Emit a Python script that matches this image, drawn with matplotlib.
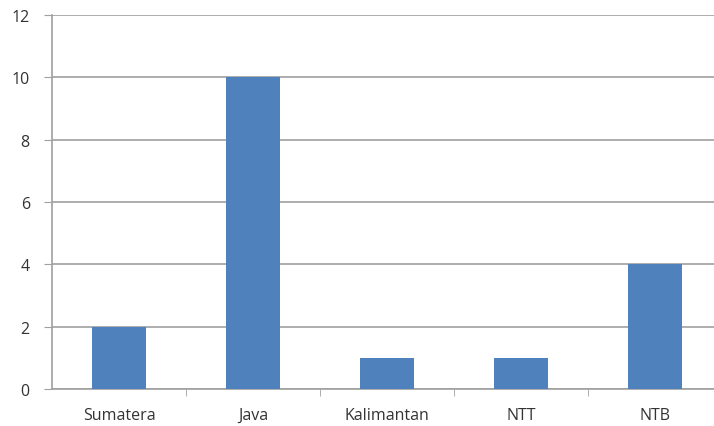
import matplotlib
matplotlib.use("Agg")
import matplotlib.pyplot as plt
from matplotlib.ticker import FixedLocator, NullFormatter

regions = ["Sumatera", "Java", "Kalimantan", "NTT", "NTB"]
counts = [2, 10, 1, 1, 4]
y_ticks = [0, 2, 4, 6, 8, 10, 12]

W, H = 714, 427
fig = plt.figure(figsize=(W / 100, H / 100), dpi=100)
ax = fig.add_axes([52 / W, (H - 390) / H, 662 / W, 374 / H])

x = list(range(len(regions)))
ax.bar(x, counts, width=0.40, color="#4F81BD", zorder=3)

ax.set_xlim(-0.5, -0.5 + 662 / 134)
ax.set_ylim(0, 12)
ax.set_yticks(y_ticks)
ax.yaxis.grid(True, color="#A0A0A0", linewidth=1.2, zorder=0)

ax.set_xticks(x)
ax.set_xticklabels(regions)
ax.xaxis.set_minor_locator(FixedLocator([i + 0.5 for i in range(len(regions) - 1)]))
ax.xaxis.set_minor_formatter(NullFormatter())
ax.tick_params(axis="x", which="major", length=0, pad=13)
ax.tick_params(axis="x", which="minor", length=5, color="#A0A0A0", direction="out")
ax.tick_params(axis="y", length=6, color="#A0A0A0", pad=10)
ax.tick_params(labelsize=11.5, labelcolor="#333333")
for lbl in ax.get_xticklabels() + ax.get_yticklabels():
    lbl.set_fontfamily("Open Sans")

for side in ["top", "right"]:
    ax.spines[side].set_visible(False)
for side in ["left", "bottom"]:
    ax.spines[side].set_color("#A0A0A0")
    ax.spines[side].set_linewidth(1.2)

fig.savefig("out.png", dpi=100)
plt.close(fig)
